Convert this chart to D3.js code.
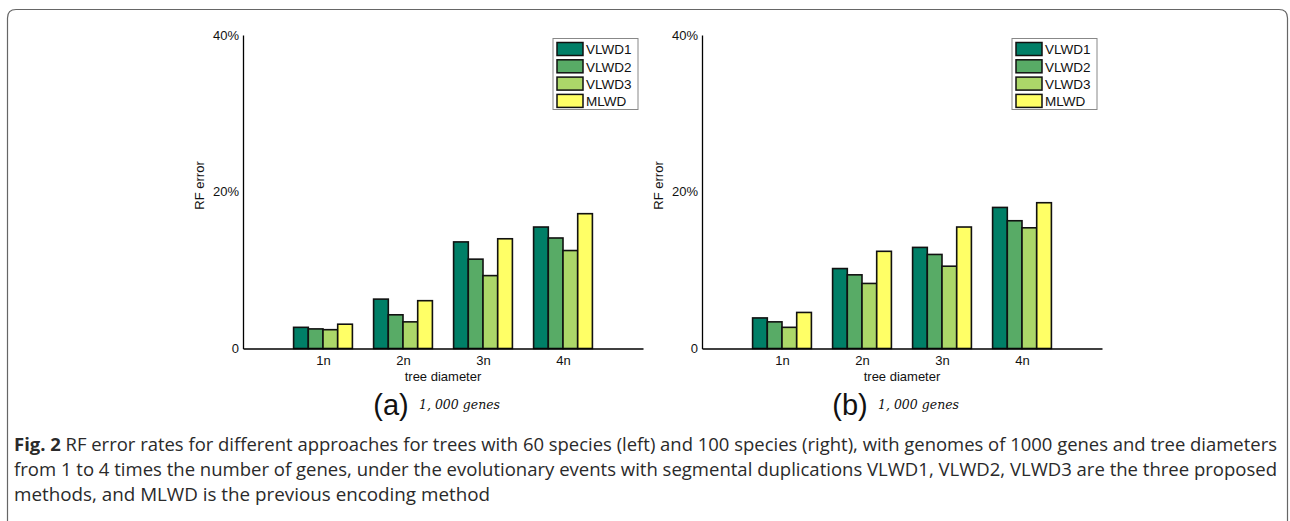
<!DOCTYPE html>
<html>
<head>
<meta charset="utf-8">
<script src="https://cdn.jsdelivr.net/npm/d3@7"></script>
<style>
  body { margin: 0; background: #fff; }
  svg { display: block; }
  .tick text { font-family: "Liberation Sans", Arial, sans-serif; font-size: 13px; fill: #111; }
</style>
</head>
<body>
<div id="chart"></div>
<script>
// data (RF error, %)
var categories = ["1n", "2n", "3n", "4n"];
var seriesNames = ["VLWD1", "VLWD2", "VLWD3", "MLWD"];
var colors = ["#007f67", "#58ab66", "#acd769", "#ffff66"];
var yTicks = [0, 20, 40];

// panel (a): 60 species
var panelA = {
  VLWD1: [2.7, 6.3, 13.6, 15.5],
  VLWD2: [2.5, 4.3, 11.4, 14.1],
  VLWD3: [2.4, 3.4, 9.3, 12.5],
  MLWD:  [3.1, 6.1, 14.0, 17.2]
};
// panel (b): 100 species
var panelB = {
  VLWD1: [3.9, 10.2, 12.9, 18.0],
  VLWD2: [3.4, 9.4, 12.0, 16.3],
  VLWD3: [2.7, 8.3, 10.5, 15.4],
  MLWD:  [4.6, 12.4, 15.5, 18.6]
};

var captionLines = [
  "RF error rates for different approaches for trees with 60 species (left) and 100 species (right), with genomes of 1000 genes and tree diameters",
  "from 1 to 4 times the number of genes, under the evolutionary events with segmental duplications VLWD1, VLWD2, VLWD3 are the three proposed",
  "methods, and MLWD is the previous encoding method"
];
var captionWidths = [1263, 1263, 476];

var W = 1290, H = 521;
var svg = d3.select("#chart").append("svg")
  .attr("width", W)
  .attr("height", H);

// rounded frame round the figure (bottom runs off the page)
svg.append("path")
  .attr("d", "M7.5," + (H + 5) + " L7.5,18 Q7.5,9.5 16,9.5 L1279,9.5 Q1287.5,9.5 1287.5,18 L1287.5," + (H + 5))
  .attr("fill", "none")
  .attr("stroke", "#666")
  .attr("stroke-width", 1.2);

function drawPanel(left, data, letter) {
  var g = svg.append("g");
  var x = d3.scaleLinear().domain([0, 5]).range([left, left + 400]);
  var y = d3.scaleLinear().domain([0, 40]).range([348.5, 35]);
  var inner = d3.scaleBand().domain(seriesNames).range([-29.4, 29.4]);

  // bars
  seriesNames.forEach(function(s, si) {
    g.selectAll(".bar-" + si)
      .data(data[s])
      .enter()
      .append("rect")
      .attr("x", (d, i) => x(i + 1) + inner(s))
      .attr("y", d => y(d))
      .attr("width", inner.bandwidth())
      .attr("height", d => y(0) - y(d))
      .attr("fill", colors[si])
      .attr("stroke", "#111")
      .attr("stroke-width", 1.6);
  });

  // y axis
  var yAxis = d3.axisLeft(y)
    .tickValues(yTicks)
    .tickSize(0)
    .tickPadding(4)
    .tickFormat(d => d === 0 ? "0" : d + "%");
  var ya = g.append("g").attr("transform", "translate(" + left + ",0)").call(yAxis);
  ya.select(".domain").attr("stroke", "#000").attr("stroke-width", 1.3);

  // x axis
  var xAxis = d3.axisBottom(x)
    .tickValues([1, 2, 3, 4])
    .tickSize(0)
    .tickPadding(7)
    .tickFormat((d, i) => categories[i]);
  var xa = g.append("g").attr("transform", "translate(0," + y(0) + ")").call(xAxis);
  xa.select(".domain").attr("stroke", "#000").attr("stroke-width", 1.3);

  // axis titles
  g.append("text")
    .attr("transform", "translate(" + (left - 39) + "," + y(20.8) + ") rotate(-90)")
    .attr("text-anchor", "middle")
    .attr("font-family", "Liberation Sans, Arial, sans-serif")
    .attr("font-size", 13)
    .attr("fill", "#111")
    .text("RF error");
  g.append("text")
    .attr("x", x(2.5))
    .attr("y", 381)
    .attr("text-anchor", "middle")
    .attr("font-family", "Liberation Sans, Arial, sans-serif")
    .attr("font-size", 13)
    .attr("fill", "#111")
    .text("tree diameter");

  // sub caption
  g.append("text")
    .attr("x", x(1.85))
    .attr("y", 415)
    .attr("text-anchor", "middle")
    .attr("font-family", "Liberation Sans, Arial, sans-serif")
    .attr("font-size", 29)
    .attr("fill", "#111")
    .text("(" + letter + ")");
  g.append("text")
    .attr("x", x(2.2))
    .attr("y", 409)
    .attr("font-family", "DejaVu Serif, serif")
    .attr("font-style", "italic")
    .attr("font-size", 12.5)
    .attr("fill", "#111")
    .text("1, 000 genes");

  // legend
  var lg = g.append("g").attr("transform", "translate(" + (left + 310) + ",38.5)");
  lg.append("rect")
    .attr("width", 85)
    .attr("height", 71)
    .attr("fill", "#fff")
    .attr("stroke", "#888")
    .attr("stroke-width", 1);
  var item = lg.selectAll(".item")
    .data(seriesNames)
    .enter()
    .append("g")
    .attr("transform", (d, i) => "translate(4," + (4 + i * 17.3) + ")");
  item.append("rect")
    .attr("width", 26)
    .attr("height", 13)
    .attr("fill", (d, i) => colors[i])
    .attr("stroke", "#111")
    .attr("stroke-width", 1.5);
  item.append("text")
    .attr("x", 29)
    .attr("y", 11.8)
    .attr("font-family", "Liberation Sans, Arial, sans-serif")
    .attr("font-size", 13.5)
    .attr("fill", "#111")
    .text(d => d);
}

drawPanel(243, panelA, "a");
drawPanel(702, panelB, "b");

// figure caption
var cap = svg.append("g")
  .attr("font-family", "Open Sans, Noto Sans, sans-serif")
  .attr("font-size", 17.5)
  .attr("fill", "#2a2a2a");
captionLines.forEach(function(line, i) {
  var t = cap.append("text")
    .attr("x", 14)
    .attr("y", 451 + i * 25)
    .attr("textLength", captionWidths[i])
    .attr("lengthAdjust", "spacingAndGlyphs");
  if (i === 0) {
    t.append("tspan").attr("font-weight", "bold").text("Fig. 2 ");
  }
  t.append("tspan").text(line);
});
</script>
</body>
</html>
